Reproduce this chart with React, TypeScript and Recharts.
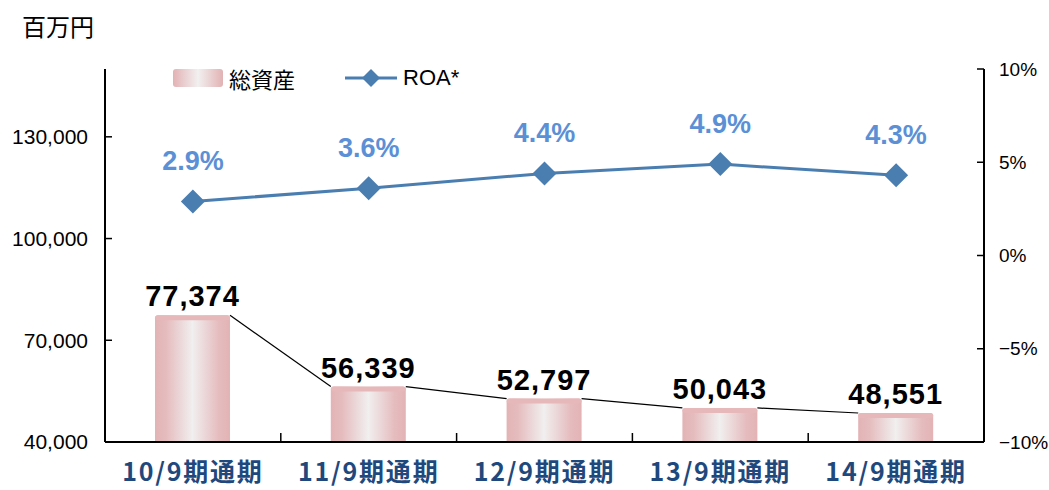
import React from 'react'
import { Bar, ComposedChart, LabelList, Line, XAxis, YAxis } from 'recharts'

if (typeof document !== 'undefined') document.body.style.margin = '0'

const periods = ['10/9期通期', '11/9期通期', '12/9期通期', '13/9期通期', '14/9期通期']
const totalAssets = [77374, 56339, 52797, 50043, 48551]
const roa = [2.9, 3.6, 4.4, 4.9, 4.3]
const leftTicks = [40000, 70000, 100000, 130000]
const rightTicks = [-10, -5, 0, 5, 10]

const LEFT_DOMAIN: [number, number] = [40000, 150000]
const W = 1049
const H = 490
const M = { top: 69, right: 0, left: 0, bottom: 0 }
const LEFT_W = 105
const RIGHT_W = 65
const STEP = (W - LEFT_W - RIGHT_W) / periods.length

const data = periods.map((p, i) => ({ period: p, assets: totalAssets[i], roa: roa[i] }))

const BLUE = '#4a7eb0'
const LABEL_BLUE = '#5b8fd6'
const NAVY = '#1f497d'

function GradientBar(props: any) {
  const { x, y, width, height, index, background } = props
  let link = null
  if (index < totalAssets.length - 1 && background) {
    const next = totalAssets[index + 1]
    const ny = background.y + background.height * (1 - (next - LEFT_DOMAIN[0]) / (LEFT_DOMAIN[1] - LEFT_DOMAIN[0]))
    link = <line x1={x + width} y1={y} x2={x + STEP} y2={ny} stroke="#000" strokeWidth={1.2} />
  }
  return (
    <g>
      <rect x={x} y={y} width={width} height={height + 2} rx={3} fill="url(#assetGrad)" />
      <rect x={x} y={y} width={width} height={5} rx={3} fill="#e6b8ba" />
      {link}
    </g>
  )
}

function Diamond(props: any) {
  const { cx, cy } = props
  if (cx == null || cy == null) return null
  const r = 12
  return <path d={`M${cx},${cy - r}L${cx + r},${cy}L${cx},${cy + r}L${cx - r},${cy}Z`} fill={BLUE} />
}

function PeriodTick(props: any) {
  const { x, y, payload, index } = props
  return (
    <g>
      {index < periods.length - 1 && (
        <line x1={x + STEP / 2} y1={y} x2={x + STEP / 2} y2={y - 9} stroke="#000" strokeWidth={1.5} />
      )}
      <text x={x} y={y} dy={39} textAnchor="middle" fill={NAVY} fontSize={25} fontWeight="bold"
        fontFamily="'Noto Sans CJK JP', sans-serif" letterSpacing={1.8}>
        {payload.value}
      </text>
    </g>
  )
}

function LegendBox() {
  return (
    <div style={{ position: 'absolute', left: 173, top: 62, display: 'flex', alignItems: 'center',
      fontFamily: "'Noto Sans CJK JP', sans-serif", fontSize: 22, color: '#000' }}>
      <svg width={50} height={18} style={{ marginRight: 6 }}>
        <defs>
          <linearGradient id="legGrad" x1="0" y1="0" x2="1" y2="0">
            <stop offset="0%" stopColor="#e2b2b4" />
            <stop offset="50%" stopColor="#f2f0f0" />
            <stop offset="100%" stopColor="#e2b2b4" />
          </linearGradient>
        </defs>
        <rect x={0} y={0} width={50} height={18} rx={3} fill="url(#legGrad)" />
      </svg>
      <span>総資産</span>
      <svg width={52} height={24} style={{ marginLeft: 50, marginRight: 6 }}>
        <line x1={0} y1={12} x2={52} y2={12} stroke={BLUE} strokeWidth={3} />
        <path d="M26,3L35,12L26,21L17,12Z" fill={BLUE} />
      </svg>
      <span style={{ fontFamily: "'Liberation Sans', Arial, sans-serif" }}>ROA*</span>
    </div>
  )
}

export default function App() {
  const axisFont = { fontSize: 21, fill: '#000', fontFamily: "'Liberation Sans', Arial, sans-serif" }
  return (
    <div style={{ position: 'relative', width: W, height: H, background: '#fff' }}>
      <div style={{ position: 'absolute', left: 22, top: 8, fontSize: 24, fontFamily: "'Noto Sans CJK JP', sans-serif", color: '#000' }}>
        百万円
      </div>
      <ComposedChart width={W} height={H} data={data} margin={M}>
        <defs>
          <linearGradient id="assetGrad" x1="0" y1="0" x2="1" y2="0">
            <stop offset="0%" stopColor="#e3b3b5" />
            <stop offset="15%" stopColor="#e5bcbe" />
            <stop offset="50%" stopColor="#f1efef" />
            <stop offset="85%" stopColor="#e5bcbe" />
            <stop offset="100%" stopColor="#e3b3b5" />
          </linearGradient>
        </defs>
        <XAxis dataKey="period" height={48} tickLine={false} tickSize={0} tickMargin={0}
          axisLine={{ stroke: '#000', strokeWidth: 2 }} tick={<PeriodTick />} interval={0} />
        <YAxis yAxisId="left" domain={LEFT_DOMAIN} ticks={leftTicks} width={LEFT_W} allowDataOverflow
          axisLine={{ stroke: '#000', strokeWidth: 2 }} tickLine={{ stroke: '#000', strokeWidth: 1.5 }}
          tickSize={-7} tickMargin={24} tick={axisFont}
          tickFormatter={(v: number) => v.toLocaleString('en-US')} />
        <YAxis yAxisId="right" orientation="right" domain={[-10, 10]} ticks={rightTicks} width={RIGHT_W}
          axisLine={{ stroke: '#000', strokeWidth: 2 }} tickLine={{ stroke: '#000', strokeWidth: 1.5 }}
          tickSize={-7} tickMargin={22} tick={{ ...axisFont, fontSize: 19, textAnchor: 'start' }}
          tickFormatter={(v: number) => `${v < 0 ? '−' + Math.abs(v) : v}%`} />
        <Bar yAxisId="left" dataKey="assets" name="総資産" barSize={75} shape={<GradientBar />} isAnimationActive={false}>
          <LabelList dataKey="assets" position="top" offset={9}
            formatter={(v: any) => Number(v).toLocaleString('en-US')}
            style={{ fontSize: 29, fontWeight: 'bold', fill: '#000', fontFamily: "'Liberation Sans', Arial, sans-serif", letterSpacing: 1 }} />
        </Bar>
        <Line yAxisId="right" dataKey="roa" name="ROA*" stroke={BLUE} strokeWidth={3} dot={<Diamond />}
          activeDot={false} isAnimationActive={false}>
          <LabelList dataKey="roa" position="top" offset={31}
            formatter={(v: any) => `${Number(v).toFixed(1)}%`}
            style={{ fontSize: 27, fontWeight: 'bold', fill: LABEL_BLUE, fontFamily: "'Liberation Sans', Arial, sans-serif" }} />
        </Line>
      </ComposedChart>
      <LegendBox />
    </div>
  )
}
